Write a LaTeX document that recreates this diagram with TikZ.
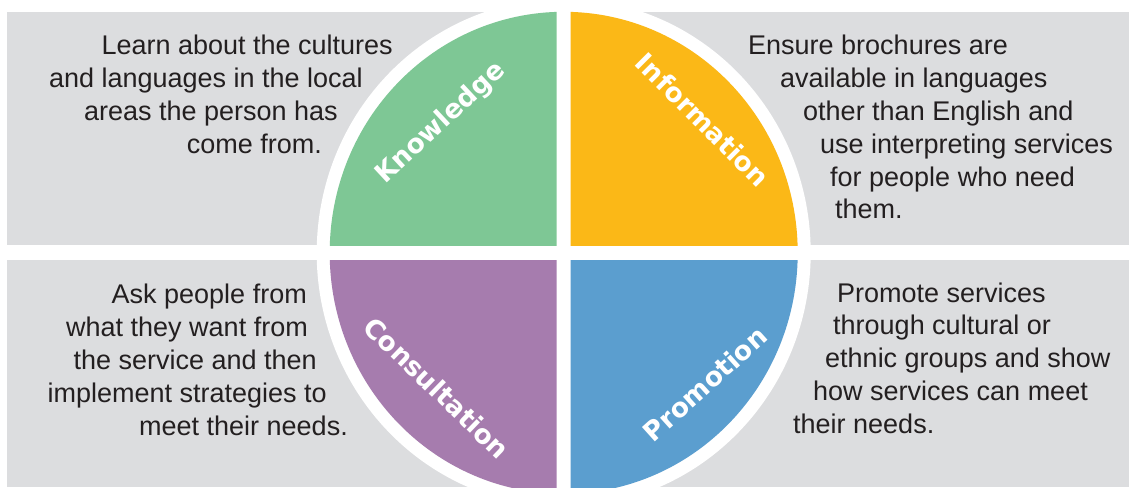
\documentclass[tikz,border=0pt]{standalone}
\usepackage{fontspec}
\setmainfont{Liberation Sans}
\newfontfamily\tagfont{DejaVu Sans}

\definecolor{panel}{HTML}{DCDDDF}
\definecolor{inkgray}{HTML}{231F20}
\definecolor{kgreen}{HTML}{7EC795}
\definecolor{iorange}{HTML}{FBB817}
\definecolor{cpurple}{HTML}{A67CAE}
\definecolor{pblue}{HTML}{5B9ECF}

\tikzset{
    body/.style={font=\fontsize{27}{32}\selectfont, text=inkgray, inner sep=0pt},
    tag/.style={font=\tagfont\fontsize{26.5}{32}\selectfont\bfseries, text=white, inner sep=0pt},
}

\begin{document}
\begin{tikzpicture}[x=1pt, y=-1pt]
    \useasboundingbox (0,0) rectangle (1129,487);

    % grey bands behind the circle
    \fill[panel] (7,12) rectangle (1129,245);
    \fill[panel] (7,260) rectangle (1129,487);

    % white ring and the four coloured quarters
    \coordinate (c) at (563.7,252.8);
    \fill[white] (c) ellipse [x radius=247, y radius=254];
    \foreach \col/\xa/\ya/\xb/\yb in {kgreen/300/0/556.7/245, iorange/570.7/0/830/245,
                                      cpurple/300/260.7/556.7/487, pblue/570.7/260.7/830/487}{
        \begin{scope}
            \clip (\xa,\ya) rectangle (\xb,\yb);
            \fill[\col] (c) ellipse [x radius=234, y radius=241];
        \end{scope}
    }

    % quarter titles
    \node[tag, rotate=43]  (know) at (441,123) {Knowledge};
    \node[tag, rotate=-45] (info) at (703,120) {Information};
    \node[tag, rotate=-44] (cons) at (437,388) {Consultation};
    \node[tag, rotate=42]  (prom) at (705,384) {Promotion};

    % texts on the left, set flush to the circle
    \foreach \x/\y/\txt [count=\i] in {393/55/{Learn about the cultures},
                                        363/88/{and languages in the local},
                                        338/120.5/{areas the person has},
                                        322/153/{come from.}}
        \node[body, anchor=base east] (kt\i) at (\x,\y) {\txt};
    \foreach \x/\y/\txt [count=\i] in {307/303/{Ask people from},
                                        308/336/{what they want from},
                                        317/369/{the service and then},
                                        327/402/{implement strategies to},
                                        348/435/{meet their needs.}}
        \node[body, anchor=base east] (ct\i) at (\x,\y) {\txt};

    % texts on the right
    \foreach \x/\y/\txt [count=\i] in {748/55/{Ensure brochures are},
                                        780/88/{available in languages},
                                        803/120.5/{other than English and},
                                        820/153/{use interpreting services},
                                        830/186/{for people who need},
                                        835/218/{them.}}
        \node[body, anchor=base west] (it\i) at (\x,\y) {\txt};
    \foreach \x/\y/\txt [count=\i] in {837/302/{Promote services},
                                        833/334/{through cultural or},
                                        825/367/{ethnic groups and show},
                                        813/400/{how services can meet},
                                        793/433/{their needs.}}
        \node[body, anchor=base west] (pt\i) at (\x,\y) {\txt};
\end{tikzpicture}
\end{document}
